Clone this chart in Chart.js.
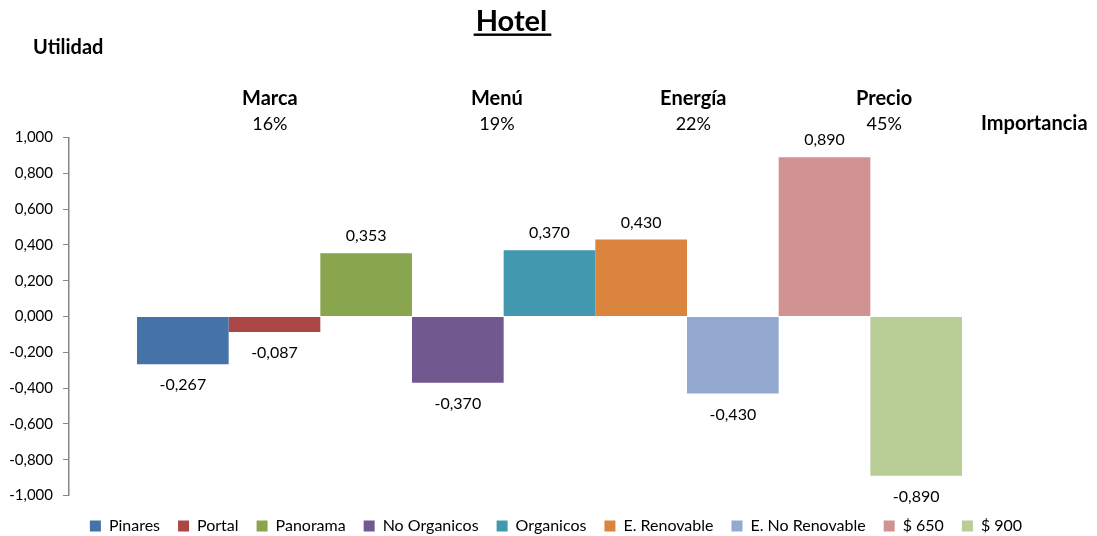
<!DOCTYPE html>
<html>
<head>
<meta charset="utf-8">
<script src="https://cdn.jsdelivr.net/npm/chart.js@4/dist/chart.umd.min.js"></script>
<style>
  html, body { margin: 0; padding: 0; background: #fff; }
  #wrap { width: 1097px; height: 536px; }
</style>
</head>
<body>
<div id="wrap"><canvas id="c" width="1097" height="536"></canvas></div>
<script>
// Levels of each attribute and their part-worth utilities
const levels = ['Pinares', 'Portal', 'Panorama', 'No Organicos', 'Organicos',
                'E. Renovable', 'E. No Renovable', '$ 650', '$ 900'];
const utilities = [-0.267, -0.087, 0.353, -0.370, 0.370, 0.430, -0.430, 0.890, -0.890];
const colors = ['#4572A7', '#AA4643', '#89A54E', '#71588F', '#4198AF',
                '#DB843D', '#93A9CF', '#D19392', '#B9CD96'];

// Attributes with their relative importance
const attributes = ['Marca', 'Menú', 'Energía', 'Precio'];
const importance = ['16%', '19%', '22%', '45%'];
// horizontal anchor of each attribute label, as a fraction of the canvas width
const attributeX = [0.246, 0.453, 0.632, 0.806];

const FONT = 'Lato, "Open Sans", sans-serif';
const fmt = v => v.toFixed(3).replace('.', ',');

const datasets = levels.map((name, i) => ({
  label: name,
  data: [utilities[i]],
  backgroundColor: colors[i],
  borderWidth: 0,
  categoryPercentage: 0.8585,
  barPercentage: 1.0
}));

const annotations = {
  id: 'annotations',
  afterDatasetsDraw(chart) {
    const ctx = chart.ctx;
    ctx.save();
    ctx.fillStyle = '#000';
    ctx.textAlign = 'center';
    ctx.textBaseline = 'middle';
    // value labels above / below each bar
    ctx.font = '16px ' + FONT;
    chart.data.datasets.forEach((ds, i) => {
      const bar = chart.getDatasetMeta(i).data[0];
      const v = ds.data[0];
      const y = v >= 0 ? bar.y - 17 : bar.y + 21;
      ctx.fillText(fmt(v), bar.x, y);
    });
    // underlined title
    ctx.font = 'bold 29px ' + FONT;
    const title = 'Hotel';
    const tw = ctx.measureText(title).width;
    const tx = 511.5, ty = 22;
    ctx.fillText(title, tx, ty);
    ctx.fillRect(tx - tw / 2 - 2, ty + 11.5, tw + 6, 2.4);
    // captions
    ctx.font = 'bold 20px ' + FONT;
    ctx.textAlign = 'left';
    ctx.fillText('Utilidad', 33, 48);
    ctx.fillText('Importancia', 981, 124);
    // attribute names and importance
    ctx.textAlign = 'center';
    attributes.forEach((a, i) => {
      const x = chart.width * attributeX[i];
      ctx.font = 'bold 20px ' + FONT;
      ctx.fillText(a, x, 99);
      ctx.font = '18px ' + FONT;
      ctx.fillText(importance[i], x, 124);
    });
    ctx.restore();
  }
};

new Chart(document.getElementById('c'), {
  type: 'bar',
  data: { labels: ['Hotel'], datasets },
  options: {
    responsive: false,
    animation: false,
    layout: { padding: { top: 137.5, right: -15, left: 0, bottom: -8 } },
    scales: {
      x: {
        display: true,
        afterFit(scale) { scale.height = 4.5; },
        ticks: { display: false },
        grid: { display: false },
        border: { display: false }
      },
      y: {
        min: -1, max: 1,
        afterFit(scale) { scale.width = 69; },
        ticks: {
          stepSize: 0.2,
          padding: 10,
          color: '#000',
          font: { family: FONT, size: 15 },
          callback: v => fmt(Math.round(v * 1000) / 1000)
        },
        grid: { drawOnChartArea: false, drawTicks: true, tickLength: 6, color: '#868686' },
        border: { display: true, color: '#868686', width: 1.5 }
      },
      // empty right-hand margin axis
      yRight: {
        position: 'right',
        display: true,
        afterFit(scale) { scale.width = 82; },
        ticks: { display: false },
        grid: { display: false },
        border: { display: false }
      }
    },
    plugins: {
      tooltip: { enabled: false },
      legend: {
        position: 'bottom',
        labels: {
          boxWidth: 11, boxHeight: 11, padding: 18,
          color: '#000',
          font: { family: FONT, size: 16 }
        }
      }
    }
  },
  plugins: [annotations]
});
</script>
</body>
</html>
